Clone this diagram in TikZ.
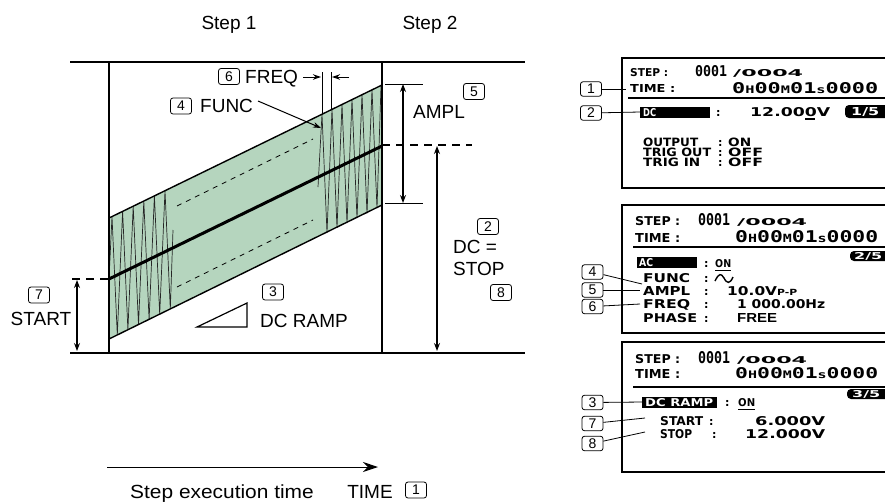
\documentclass[tikz,border=0pt]{standalone}
\usepackage{fontspec}
\setmainfont{Liberation Sans}
\newfontfamily\lcdfont{DejaVu Sans}
\newfontfamily\lcdmono{DejaVu Sans Mono}
\usetikzlibrary{arrows.meta}
\definecolor{bandgreen}{RGB}{181,213,190}
\newcommand{\lcdt}[3]{\resizebox{#1pt}{#2pt}{\lcdfont\bfseries #3}}
\newcommand{\lcdm}[3]{\resizebox{#1pt}{#2pt}{\lcdmono\bfseries #3}}
\newcommand{\lcdn}[2]{{\lcdfont\bfseries\fontsize{#1}{#1}\selectfont #2}}
\newcommand{\smc}[1]{{\fontsize{7}{7}\selectfont #1}}
\begin{document}
\begin{tikzpicture}[x=1pt,y=-1pt,
  framel/.style={line width=2.6pt},
  numbox/.style={draw, rounded corners=2.5pt, line width=0.8pt, minimum width=21pt, minimum height=16pt, inner sep=0pt, font=\fontsize{14}{14}\selectfont},
  pbox/.style={numbox, minimum height=14.5pt},
  lbl/.style={inner sep=0pt, anchor=base, font=\fontsize{19}{19}\selectfont},
  lblw/.style={lbl, anchor=base west},
  ltx/.style={inner sep=0pt, anchor=base west},
  ltw/.style={ltx, text=white},
  dimarr/.style={line width=1.1pt, {Stealth[length=8pt,width=6pt]}-{Stealth[length=8pt,width=6pt]}},
  onearr/.style={line width=1pt, -{Stealth[length=8pt,width=5.5pt]}},
  lead/.style={line width=0.8pt},
  thickdash/.style={line width=2.2pt, dash pattern=on 8pt off 6pt},
  thindash/.style={line width=0.8pt, dash pattern=on 5pt off 5pt},
  wavel/.style={line width=0.7pt, draw=black!85},
  panell/.style={line width=2.4pt},
  sepline/.style={line width=1.8pt},
  badge/.style={fill=black, rounded corners=4pt},
]
\useasboundingbox (0,0) rectangle (885,501);
\clip (0,0) rectangle (885,501);

% ---------- band ----------
\fill[bandgreen] (109,218) -- (382,85) -- (382,205) -- (109,339) -- cycle;
\draw[thindash] (177,206) -- (313,139);
\draw[thindash] (177,287) -- (313,220);
\draw[wavel] (109,279) \foreach \i in {0,...,5} { -- ({112+10.6*\i},{218-0.4872*(112+10.6*\i-109)}) -- ({117.3+10.6*\i},{339-0.4872*(117.3+10.6*\i-109)}) } -- (173,230);
\draw[wavel] (318,187) \foreach \i in {0,...,5} { -- ({322+10*\i},{218-0.4872*(322+10*\i-109)}) -- ({327+10*\i},{339-0.4872*(327+10*\i-109)}) } -- (381,86);
\draw[line width=1.4pt] (109,218) -- (382,85);
\draw[line width=1.4pt] (109,339) -- (382,205);
\draw[line width=3pt] (109,279) -- (382,146);

% ---------- frame ----------
\coordinate (TL) at (70,62); \coordinate (TR) at (525,62);
\coordinate (BL) at (70,353); \coordinate (BR) at (525,353);
\coordinate (V1t) at (109,62); \coordinate (V1b) at (109,353);
\coordinate (V2t) at (382,62); \coordinate (V2b) at (382,353);
\draw[framel] (TL) -- (TR);
\draw[framel] (BL) -- (BR);
\draw[framel] (V1t) -- (V1b);
\draw[framel] (V2t) -- (V2b);

% ---------- dimensions ----------
\coordinate (at1) at (385,84); \coordinate (at2) at (423,84);
\coordinate (ab1) at (385,203); \coordinate (ab2) at (423,203);
\draw[line width=1pt] (at1) -- (at2);
\draw[line width=1pt] (ab1) -- (ab2);
\coordinate (amplT) at (403,84); \coordinate (amplB) at (403,203);
\draw[dimarr] (amplT) -- (amplB);
\coordinate (rd1) at (382,145); \coordinate (rd2) at (472,145);
\draw[thickdash] (rd1) -- (rd2);
\coordinate (dcT) at (437,146); \coordinate (dcB) at (437,351);
\draw[dimarr] (dcT) -- (dcB);
\coordinate (ld1) at (72,279); \coordinate (ld2) at (109,279);
\draw[thickdash] (ld1) -- (ld2);
\coordinate (stT) at (77,280); \coordinate (stB) at (77,351);
\draw[dimarr] (stT) -- (stB);

% freq markers
\coordinate (f1t) at (322,72); \coordinate (f1b) at (322,114);
\coordinate (f2t) at (331,72); \coordinate (f2b) at (331,109);
\draw[line width=1pt] (f1t) -- (f1b);
\draw[line width=1pt] (f2t) -- (f2b);
\coordinate (fa1) at (303,77); \coordinate (fa2) at (321,77);
\coordinate (fb1) at (349,77); \coordinate (fb2) at (332,77);
\draw[onearr] (fa1) -- (fa2);
\draw[onearr] (fb1) -- (fb2);

% triangle
\coordinate (tr1) at (197,327); \coordinate (tr2) at (247,303); \coordinate (tr3) at (247,327);
\draw[line width=1.2pt] (tr1) -- (tr2) -- (tr3) -- cycle;

% time arrow
\coordinate (ta1) at (107,467); \coordinate (ta2) at (378,467);
\draw[line width=1pt, -{Stealth[length=15pt,width=10pt]}] (ta1) -- (ta2);

% ---------- labels ----------
\node[lbl] (step1) at (229,29) {Step 1};
\node[lbl] (step2) at (430,29) {Step 2};
\node[numbox] (n6) at (229,76.5) {6};
\node[lblw] (freq) at (245,83) {FREQ};
\node[numbox] (n4) at (181,106) {4};
\node[lblw] (func) at (200,112) {FUNC};
\coordinate (funcA) at (258,101); \coordinate (funcB) at (321,128);
\draw[onearr] (funcA) -- (funcB);
\node[numbox] (n3) at (273,292) {3};
\node[lblw] (dcramp) at (260,327) {DC RAMP};
\node[numbox] (n7) at (39,295) {7};
\node[lbl] (start) at (41,325) {START};
\node[numbox] (n5) at (474,91.5) {5};
\node[lblw] (ampl) at (413,118) {AMPL};
\node[numbox] (n2a) at (488,226.5) {2};
\node[lblw] (dceq) at (453,253) {DC =};
\node[lblw] (stop) at (453,275) {STOP};
\node[numbox] (n8a) at (501,292.5) {8};
\node[lbl] (exec) at (222,498) {\scalebox{1.1}[1]{Step execution time}};
\node[lbl] (time) at (370,498) {TIME};
\node[numbox] (n1a) at (416,490) {1};

% ---------- panel 1 ----------
\draw[panell] (890,58) -| (622,188) -- (890,188);
\node[ltx] (p1step) at (630,76) {\lcdt{38}{8}{STEP :}};
\node[ltx] (p1num) at (695,76) {\lcdm{32}{11}{0001}};
\node[ltx] (p1tot) at (733,76) {\lcdt{70}{7}{/0004}};
\node[ltx] (p1time) at (630,92) {\lcdt{45}{8}{TIME :}};
\node[ltx] (p1tv) at (732,93) {\lcdm{146}{11}{0\smc{H}00\smc{M}01\smc{s}0000}};
\coordinate (s1a) at (628,98); \coordinate (s1b) at (890,98);
\draw[sepline] (s1a) -- (s1b);
\fill (640,107) rectangle (710,118);
\node[ltw] (p1dc) at (643,116) {\lcdt{13}{8}{DC}};
\node[ltx] (p1dcc) at (716,116) {\lcdn{11}{:}};
\node[ltx] (p1dcv) at (750,116) {\lcdt{80}{9}{12.000V}};
\draw[line width=1.2pt] (805,119) -- (815,119);
\fill[badge] (845,105) rectangle (895,118);
\node[ltw] (p1bd) at (851,115.5) {\lcdt{28}{8}{1/5}};
\node[ltx] (p1o) at (643,146) {\lcdt{55}{8.5}{OUTPUT}};
\node[ltx] (p1oc) at (718,146) {\lcdn{11}{:}};
\node[ltx] (p1ov) at (728,146) {\lcdt{23}{8.5}{ON}};
\node[ltx] (p1t) at (643,156) {\lcdt{68}{8.5}{TRIG OUT}};
\node[ltx] (p1tc) at (718,156) {\lcdn{11}{:}};
\node[ltx] (p1tv2) at (728,156) {\lcdt{35}{8.5}{OFF}};
\node[ltx] (p1i) at (643,166) {\lcdt{57}{8.5}{TRIG IN}};
\node[ltx] (p1ic) at (718,166) {\lcdn{11}{:}};
\node[ltx] (p1iv) at (728,166) {\lcdt{35}{8.5}{OFF}};
\node[pbox] (q1) at (591,89) {1};
\node[pbox] (q2) at (591,113) {2};
\coordinate (q1e) at (626,89); \coordinate (q2e) at (640,112);
\draw[lead] (q1) -- (q1e);
\draw[lead] (q2) -- (q2e);

% ---------- panel 2 ----------
\draw[panell] (890,205) -| (622,333) -- (890,333);
\node[ltx] (p2step) at (635,225) {\lcdt{45}{9}{STEP :}};
\node[ltx] (p2num) at (698,225) {\lcdm{32}{12}{0001}};
\node[ltx] (p2tot) at (737,225) {\lcdt{70}{7}{/0004}};
\node[ltx] (p2time) at (635,242) {\lcdt{45}{9}{TIME :}};
\node[ltx] (p2tv) at (735,242) {\lcdm{143}{12}{0\smc{H}00\smc{M}01\smc{s}0000}};
\coordinate (s2a) at (633,247); \coordinate (s2b) at (890,247);
\draw[sepline] (s2a) -- (s2b);
\fill[badge] (850,251) rectangle (895,261);
\node[ltw] (p2bd) at (854,259.5) {\lcdt{28}{7}{2/5}};
\fill (637,257) rectangle (697,268);
\node[ltw] (p2ac) at (639,266.5) {\lcdt{14}{8}{AC}};
\node[ltx] (p2acc) at (704,267) {\lcdn{11}{:}};
\node[ltx] (p2acv) at (715,267) {\lcdt{16}{8}{ON}};
\draw[line width=1pt] (715,270) -- (731,270);
\node[ltx] (p2f) at (643,282) {\lcdt{47}{9}{FUNC}};
\node[ltx] (p2fc) at (704,282) {\lcdn{11}{:}};
\draw[line width=1.4pt] (715,281) .. controls (719,273) and (721,273) .. (724,278) .. controls (727,284) and (730,284) .. (733,277);
\node[ltx] (p2a) at (643,295) {\lcdt{47}{9}{AMPL}};
\node[ltx] (p2ac2) at (704,295) {\lcdn{11}{:}};
\node[ltx] (p2av) at (727,295) {\lcdt{70}{9}{10.0V\smc{P-P}}};
\node[ltx] (p2q) at (643,308) {\lcdt{47}{9}{FREQ}};
\node[ltx] (p2qc) at (704,308) {\lcdn{11}{:}};
\node[ltx] (p2qv) at (737,308) {\lcdt{88}{9}{1 000.00Hz}};
\node[ltx] (p2p) at (643,322) {\lcdt{54}{9}{PHASE}};
\node[ltx] (p2pc) at (704,322) {\lcdn{11}{:}};
\node[ltx] (p2pv) at (737,322) {\resizebox{40pt}{9pt}{\bfseries FREE}};
\node[pbox] (q4) at (592.5,272) {4};
\node[pbox] (q5) at (592.5,290) {5};
\node[pbox] (q6) at (592.5,306.5) {6};
\coordinate (q4e) at (642,284); \coordinate (q5e) at (640,290); \coordinate (q6e) at (640,304);
\draw[lead] (q4) -- (q4e);
\draw[lead] (q5) -- (q5e);
\draw[lead] (q6) -- (q6e);

% ---------- panel 3 ----------
\draw[panell] (890,342) -| (622,472) -- (890,472);
\node[ltx] (p3step) at (635,363) {\lcdt{45}{9}{STEP :}};
\node[ltx] (p3num) at (698,363) {\lcdm{32}{12}{0001}};
\node[ltx] (p3tot) at (737,363) {\lcdt{70}{7}{/0004}};
\node[ltx] (p3time) at (635,378) {\lcdt{45}{9}{TIME :}};
\node[ltx] (p3tv) at (735,378) {\lcdm{143}{11}{0\smc{H}00\smc{M}01\smc{s}0000}};
\coordinate (s3a) at (633,387); \coordinate (s3b) at (890,387);
\draw[sepline] (s3a) -- (s3b);
\fill[badge] (847,389) rectangle (895,399);
\node[ltw] (p3bd) at (852,397.5) {\lcdt{28}{7}{3/5}};
\fill (642,397) rectangle (717,408);
\node[ltw] (p3dr) at (645,406) {\lcdt{68}{8}{DC RAMP}};
\node[ltx] (p3drc) at (725,406) {\lcdn{11}{:}};
\node[ltx] (p3drv) at (738,406) {\lcdt{17}{8}{ON}};
\draw[line width=1pt] (738,409) -- (755,409);
\node[ltx] (p3s) at (660,425) {\lcdt{43}{9}{START}};
\node[ltx] (p3sc) at (709,425) {\lcdn{11}{:}};
\node[ltx] (p3sv) at (755,425) {\lcdt{70}{9}{6.000V}};
\node[ltx] (p3t) at (660,438) {\lcdt{32}{9}{STOP}};
\node[ltx] (p3tc) at (712,438) {\lcdn{11}{:}};
\node[ltx] (p3tv2) at (745,438) {\lcdt{80}{9}{12.000V}};
\node[pbox] (q3) at (592.5,402.5) {3};
\node[pbox] (q7) at (592.5,423.5) {7};
\node[pbox] (q8) at (592.5,443.5) {8};
\coordinate (q3e) at (643,402); \coordinate (q7e) at (645,418); \coordinate (q8e) at (645,432);
\draw[lead] (q3) -- (q3e);
\draw[lead] (q7) -- (q7e);
\draw[lead] (q8) -- (q8e);
\end{tikzpicture}
\end{document}
